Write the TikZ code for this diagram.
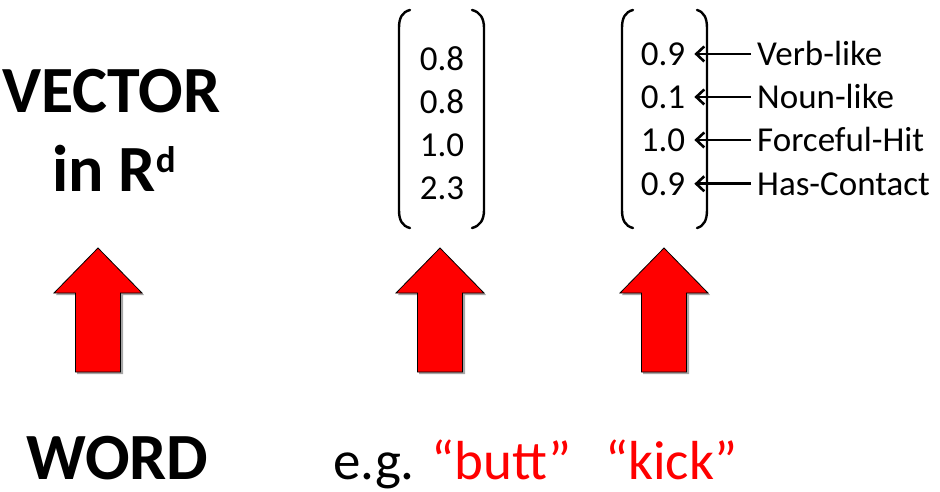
\documentclass[tikz,border=0pt]{standalone}
\usepackage{fontspec}
\setmainfont{Carlito}
\usetikzlibrary{arrows.meta}
\tikzset{
  bigword/.style={font=\fontsize{66}{66}\selectfont\bfseries, inner sep=0pt, anchor=base west},
  plainword/.style={font=\fontsize{55}{55}\selectfont, inner sep=0pt, anchor=base west},
  entry/.style={font=\fontsize{35}{35}\selectfont, inner sep=0pt, anchor=base},
  feature/.style={font=\fontsize{35}{35}\selectfont, inner sep=0pt, anchor=base west},
  bracket/.style={line width=2.4pt, line cap=round},
  featarrow/.style={line width=2.6pt, -{Straight Barb[length=8pt,width=15pt]}, shorten <=6pt, shorten >=9pt},
  bigarrow/.style={fill=red, draw=black, line width=0.8pt, line join=miter}
}
\begin{document}
\begin{tikzpicture}[x=1pt, y=-1pt]
\useasboundingbox (0,0) rectangle (940,492);
% left column
\node[bigword] (vec) at (2,113) {VECTOR};
\node[bigword] (inrd) at (52,192) {in R\raisebox{20pt}{\fontsize{37}{37}\selectfont d}};
\node[bigword] (word) at (26,479) {WORD};
% example words
\node[plainword] (eg) at (333,479) {e.g. \textcolor{red}{“butt”}};
\node[plainword, text=red] (kick) at (605,479) {“kick”};
% vector entries
\foreach \v [count=\i] in {0.8,0.8,1.0,2.3}
  \node[entry] (b\i) at (442,{28+43*\i}) {\v};
\foreach \v [count=\i] in {0.9,0.1,1.0,0.9}
  \node[entry] (k\i) at (663,{23+43*\i}) {\v};
% feature names
\foreach \f [count=\i] in {Verb-like,Noun-like,Forceful-Hit,Has-Contact}
  \node[feature] (f\i) at (757,{23+43*\i}) {\f};
\foreach \i in {1,...,4}
  \draw[featarrow] (f\i.west) -- (f\i.west -| k\i.east);
% brackets
\draw[bracket] (410,10) .. controls (402,12) and (399,18) .. (399,28) -- (399,210) .. controls (399,220) and (402,226) .. (410,228);
\draw[bracket] (472,10) .. controls (480,12) and (484,18) .. (484,28) -- (484,210) .. controls (484,220) and (480,226) .. (472,228);
\draw[bracket] (633,10) .. controls (625,12) and (622,18) .. (622,28) -- (622,210) .. controls (622,220) and (625,226) .. (633,228);
\draw[bracket] (697,10) .. controls (704,12) and (707,18) .. (707,28) -- (707,210) .. controls (707,220) and (704,226) .. (697,228);
% big red arrows
\foreach \x in {98,440,664} {
  \fill[black!35] ({\x-21},374) -- ++(0,-79) -- ++(-21,0) -- ({\x+1},250) -- ({\x+46},295) -- ++(-21,0) -- ({\x+25},374) -- cycle;
  \draw[bigarrow] ({\x-22.5},372) -- ++(0,-79) -- ++(-21.5,0) -- (\x,248) -- ({\x+44},293) -- ++(-21.5,0) -- ({\x+22.5},372) -- cycle;
}
\end{tikzpicture}
\end{document}
